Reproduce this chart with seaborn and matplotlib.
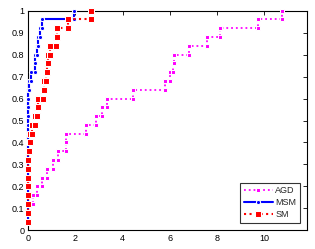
import numpy as np
import pandas as pd
import matplotlib
matplotlib.use("Agg")
import matplotlib.pyplot as plt
import seaborn as sns

# performance profile data : log2 ratios read for each of the 25 problems
solvers = ['AGD', 'MSM', 'SM']
tau_agd = [0, 0, 0, 0.22, 0.39, 0.59, 0.79, 1.07, 1.28, 1.59, 1.59, 2.45, 2.87,
           3.11, 3.35, 4.45, 5.79, 6.0, 6.12, 6.17, 6.82, 7.58, 8.12, 9.74, 10.73]
tau_msm = [0] * 16 + [0.06, 0.13, 0.30, 0.30, 0.37, 0.44, 0.51, 0.58, 1.94]
tau_sm = [0] * 9 + [0.05, 0.10, 0.18, 0.30, 0.37, 0.44, 0.65, 0.69, 0.76, 0.79,
                    0.86, 0.93, 1.18, 1.21, 1.71, 2.66]
x_ticks = [0, 2, 4, 6, 8, 10]
y_ticks = [0, 0.1, 0.2, 0.3, 0.4, 0.5, 0.6, 0.7, 0.8, 0.9, 1]


def stairs(taus, name):
    t = np.sort(np.array(taus, dtype=float))
    n = len(t)
    y = np.arange(1, n + 1) / n
    xs = np.repeat(t, 2)[1:]
    ys = np.repeat(y, 2)[:-1]
    return pd.DataFrame({'tau': xs, 'rho': ys, 'solver': name})


df = pd.concat([stairs(tau_agd, 'AGD'), stairs(tau_msm, 'MSM'), stairs(tau_sm, 'SM')])

sns.set_style('white')
plt.rcParams['font.family'] = ['Liberation Sans', 'DejaVu Sans']

fig = plt.figure(figsize=(3.15, 2.49), dpi=100)
ax = fig.add_axes([0.089, 0.075, 0.886, 0.882])

styles = {
    'AGD': dict(color='#ff00ff', linestyle=':', marker='s', markersize=2.6, linewidth=1.3),
    'MSM': dict(color='#0000ff', linestyle='-', marker='o', markersize=3.0, linewidth=1.5),
    'SM': dict(color='#ff0000', linestyle=':', marker='s', markersize=4.0, linewidth=1.5),
}
for s in solvers:
    d = df[df['solver'] == s]
    sns.lineplot(x=d['tau'].values, y=d['rho'].values, ax=ax, sort=False,
                 estimator=None, label=s, clip_on=False, zorder=3, **styles[s])

xmax = 1.1 * max(max(tau_agd), max(tau_msm), max(tau_sm))
ax.set_xlim(0, xmax)
ax.set_ylim(0, 1)
ax.set_xticks(x_ticks)
ax.set_yticks(y_ticks)
ax.set_yticklabels(['0', '0.1', '0.2', '0.3', '0.4', '0.5', '0.6', '0.7', '0.8', '0.9', '1'])
ax.set_xlabel('')
ax.set_ylabel('')
ax.tick_params(direction='in', length=3, width=0.6, labelsize=6.5, top=True, right=True,
               pad=2.5, colors='black')
for sp in ax.spines.values():
    sp.set_color('black')
    sp.set_linewidth(0.8)

leg = ax.legend(loc='lower right', fontsize=6.5, frameon=True, fancybox=False,
                handlelength=3.2, borderpad=0.4, labelspacing=0.35, handletextpad=0.3,
                borderaxespad=0.8)
leg.get_frame().set_edgecolor('black')
leg.get_frame().set_linewidth(0.8)
leg.set_zorder(5)

plt.savefig('out.png', dpi=100)
